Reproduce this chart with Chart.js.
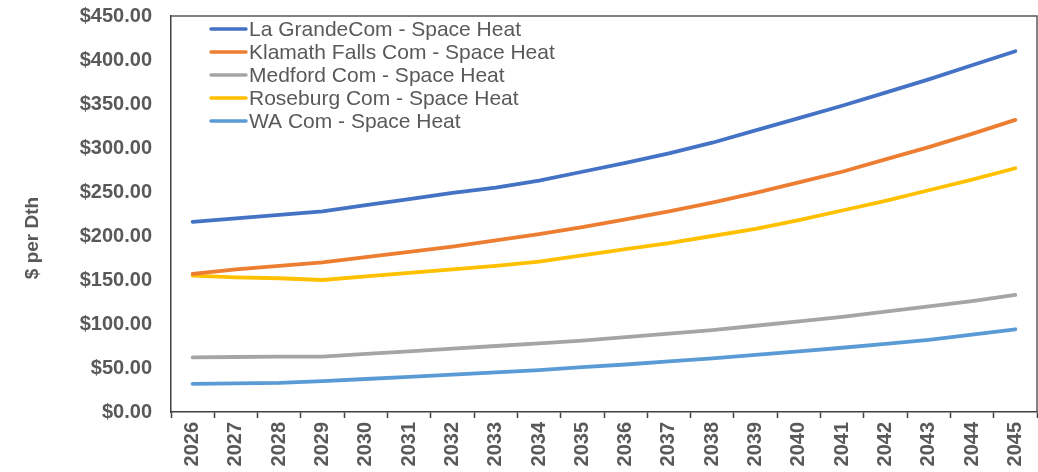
<!DOCTYPE html>
<html>
<head>
<meta charset="utf-8">
<script src="https://cdn.jsdelivr.net/npm/chart.js@4/dist/chart.umd.min.js"></script>
<style>
html,body{margin:0;padding:0;background:#fff;}
#wrap{width:1038px;height:472px;position:relative;}
</style>
</head>
<body>
<div id="wrap"><canvas id="c"></canvas></div>
<script>
const years = ['2026','2027','2028','2029','2030','2031','2032','2033','2034','2035','2036','2037','2038','2039','2040','2041','2042','2043','2044','2045'];
const laGrande = [216,220,224,228,235,242,249,255,263,273,283,294,306,320,334,348,363,378,394,410];
const klamath  = [157,162,166,170,176,182,188,195,202,210,219,228,238,249,261,273,287,301,316,332];
const medford  = [62,62.5,63,63,66,69,72,75,78,81,85,89,93,98,103,108,114,120,126,133];
const roseburg = [155,153,152,150,154,158,162,166,171,178,185,192,200,208,218,229,240,252,264,277];
const wa       = [32,32.5,33,35,37.5,40,42.5,45,47.5,51,54,57.5,61,65,69,73,77.5,82,88,94];
const seriesNames = ['La GrandeCom - Space Heat','Klamath Falls Com - Space Heat','Medford Com - Space Heat','Roseburg Com - Space Heat','WA Com - Space Heat'];
const seriesColors = ['#4472C4','#ED7D31','#A5A5A5','#FFC000','#5B9BD5'];
const yTicks = [0,50,100,150,200,250,300,350,400,450];
const yTitle = '$ per Dth';

const FONT = "'Liberation Sans', Arial, sans-serif";
const TXT = '#595959';

const allData = [laGrande, klamath, medford, roseburg, wa];
const datasets = allData.map((d,i)=>({
  label: seriesNames[i], data: d, borderColor: seriesColors[i], backgroundColor: seriesColors[i],
  borderWidth: 3.8, pointRadius: 0, tension: 0, fill: false, borderCapStyle: 'round'
}));

const decor = {
  id: 'decor',
  afterDraw(chart) {
    const ctx = chart.ctx, a = chart.chartArea;
    ctx.save();
    ctx.strokeStyle = '#595959'; ctx.lineWidth = 1.5;
    ctx.beginPath();
    ctx.moveTo(a.left, a.top); ctx.lineTo(a.right, a.top); ctx.lineTo(a.right, a.bottom);
    ctx.stroke();
    // legend
    ctx.font = '21px ' + FONT;
    ctx.textBaseline = 'middle'; ctx.textAlign = 'left';
    chart.data.datasets.forEach((ds, i) => {
      const y = a.top + 13 + i * 23;
      ctx.strokeStyle = ds.borderColor; ctx.lineWidth = 3.5; ctx.lineCap = 'round';
      ctx.beginPath(); ctx.moveTo(a.left + 40, y); ctx.lineTo(a.left + 75, y); ctx.stroke();
      ctx.fillStyle = TXT;
      ctx.fillText(ds.label, a.left + 78, y + 1);
    });
    // y title
    ctx.translate(33, 238);
    ctx.rotate(-Math.PI/2);
    ctx.textAlign = 'center';
    ctx.font = 'bold 19px ' + FONT;
    ctx.fillStyle = TXT;
    ctx.fillText(yTitle, 0, 0);
    ctx.restore();
  }
};

new Chart(document.getElementById('c'), {
  type: 'line',
  data: { labels: years, datasets },
  plugins: [decor],
  options: {
    responsive: true, maintainAspectRatio: false, animation: false,
    layout: { padding: { top: 16, right: 1, left: 0, bottom: 0 } },
    plugins: { legend: { display: false }, tooltip: { enabled: false } },
    scales: {
      x: {
        type: 'category', offset: true,
        grid: { display: true, drawOnChartArea: false, offset: true, tickLength: 6, tickColor: '#404040', tickWidth: 1.5 },
        border: { display: true, color: '#404040', width: 1.5 },
        ticks: { autoSkip: false, minRotation: 90, maxRotation: 90, padding: 4, color: TXT, font: { family: FONT, size: 20, weight: 'bold' } },
        afterFit: s => { s.height = 60; s.paddingLeft = 0; s.paddingRight = 0; }
      },
      y: {
        min: 0, max: 450,
        afterBuildTicks: s => { s.ticks = yTicks.map(v => ({ value: v })); },
        grid: { display: true, drawOnChartArea: false, drawTicks: false },
        border: { display: true, color: '#404040', width: 1.5 },
        ticks: { padding: 19, color: TXT, font: { family: FONT, size: 20, weight: 'bold' }, callback: v => '$' + Number(v).toFixed(2) },
        afterFit: s => { s.width = 171; s.paddingTop = 0; s.paddingBottom = 0; }
      }
    }
  }
});
</script>
</body>
</html>
